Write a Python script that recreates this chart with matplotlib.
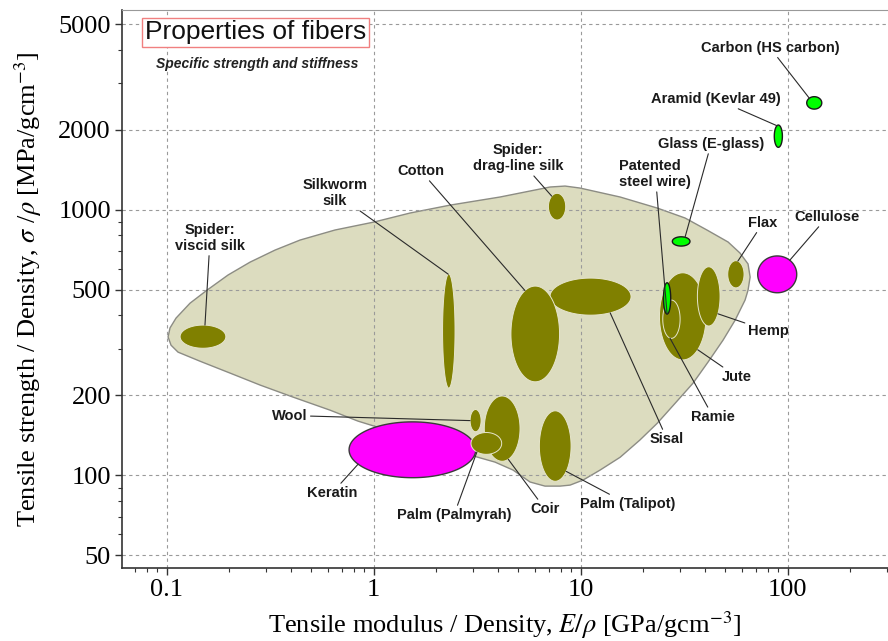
import numpy as np
import matplotlib.pyplot as plt
from matplotlib.ticker import FixedLocator, LogLocator, NullFormatter

plt.rcParams['font.family'] = 'Liberation Serif'
plt.rcParams['mathtext.fontset'] = 'stix'

# Fibers: specific modulus range (GPa/gcm-3) and specific strength range (MPa/gcm-3)
names = ['Sisal', 'Cotton', 'Silkworm\nsilk', 'Spider:\nviscid silk', 'Spider:\ndrag-line silk',
         'Wool', 'Coir', 'Palm (Talipot)', 'Keratin', 'Palm (Palmyrah)',
         'Jute', 'Hemp', 'Ramie', 'Patented\nsteel wire)', 'Flax', 'Glass (E-glass)',
         'Cellulose', 'Aramid (Kevlar 49)', 'Carbon (HS carbon)']
kind = ['plant', 'plant', 'plant', 'plant', 'plant',
        'plant', 'plant', 'plant', 'protein', 'plant',
        'plant', 'plant', 'plant', 'synthetic', 'plant', 'synthetic',
        'protein', 'synthetic', 'synthetic']
mod_lo = [7.1, 4.6, 2.15, 0.116, 6.98, 2.92, 3.42, 6.31, 0.76, 2.95,
          24.0, 36.6, 24.9, 25.1, 51.3, 27.7, 71.6, 86.1, 123.5]
mod_hi = [17.5, 7.9, 2.47, 0.193, 8.46, 3.30, 5.09, 8.98, 3.11, 4.15,
          40.3, 47.1, 30.2, 27.2, 61.5, 33.7, 110.5, 94.2, 146.0]
str_lo = [401, 225, 213, 301, 915, 146, 113, 95, 98, 120,
          272, 365, 328, 405, 508, 730, 487, 1718, 2393]
str_hi = [553, 516, 573, 368, 1153, 177, 199, 175, 159, 145,
          579, 610, 457, 531, 643, 791, 670, 2084, 2665]

# label positions (data) and where the leader touches the ellipse (deg)
label_x = [26.1, 1.69, 0.65, 0.162, 4.98, 0.394, 6.72, 16.9, 0.629, 2.44,
           56.9, 80.3, 43.6, 22.9, 76.0, 42.6, 155, 45.0, 82.1]
label_y = [137, 1399, 1156, 784, 1565, 168, 74.7, 78.0, 85.8, 70.9,
           235, 350, 166, 1363, 893, 1768, 939, 2612, 4074]
anchor_deg = [-61, 115, 95, 85, 128, 180, -70, -46, -149, -128,
              -50, -36, -100, -90, 76, 64, 50, 110, 131]

# envelope of natural fibers
env_x = [0.1134, 0.1049, 0.1015, 0.1037, 0.1109, 0.1296, 0.1565, 0.1978, 0.2526, 0.3336,
         0.4405, 0.650, 1.003, 1.497, 2.337, 4.08, 7.11, 8.40, 9.92, 15.48,
         23.4, 31.9, 40.7, 51.5, 58.8, 64.3, 65.8, 64.3, 62.2, 55.7,
         48.7, 41.2, 34.9, 28.6, 23.4, 19.3, 15.5, 12.4, 10.26, 8.88,
         7.94, 6.72, 5.69, 4.71, 3.85, 3.16, 1.674, 1.04, 0.840, 0.615,
         0.408, 0.2823, 0.2022, 0.1448]
env_y = [291, 309, 332, 359, 391, 445, 498, 568, 635, 705,
         769, 839, 899, 972, 1041, 1117, 1218, 1228, 1207, 1117,
         1015, 931, 839, 756, 687, 625, 558, 498, 457, 384,
         323, 267, 222.6, 187, 157, 135.8, 117, 104.7, 96, 91.9,
         91.1, 91.1, 94.4, 104.7, 112.2, 117.2, 135.8, 152, 160, 176,
         197, 218.8, 242.7, 269]

y_ticks = [50, 100, 200, 500, 1000, 2000, 5000]
x_ticks = [0.1, 1, 10, 100]

styles = {
    'plant': dict(fc='#808000', ec='#e6e5cc', lw=0.7),
    'protein': dict(fc='#ff00ff', ec='#3a3a3a', lw=1.0),
    'synthetic': dict(fc='#00ff00', ec='#1a1a1a', lw=1.0),
}

fig = plt.figure(figsize=(8.88, 6.41), dpi=100)
ax = fig.add_axes([0.1374, 0.1139, 0.8626, 0.8705])
ax.set_xscale('log')
ax.set_yscale('log')
ax.set_xlim(0.0608, 305)
ax.set_ylim(44.8, 5650)

ax.fill(env_x, env_y, fc='#dcdcbf', ec='#8c8c84', lw=1.0, zorder=1)

t = np.linspace(0, 2 * np.pi, 120)
for i, name in enumerate(names):
    lx0, lx1 = np.log10(mod_lo[i]), np.log10(mod_hi[i])
    ly0, ly1 = np.log10(str_lo[i]), np.log10(str_hi[i])
    cx, rx = (lx0 + lx1) / 2, (lx1 - lx0) / 2
    cy, ry = (ly0 + ly1) / 2, (ly1 - ly0) / 2
    ax.fill(10 ** (cx + rx * np.cos(t)), 10 ** (cy + ry * np.sin(t)),
            zorder=3 + i * 0.01, **styles[kind[i]])
    a = np.radians(anchor_deg[i])
    tip = (10 ** (cx + rx * np.cos(a)), 10 ** (cy + ry * np.sin(a)))
    ax.annotate(name, xy=tip, xytext=(label_x[i], label_y[i]),
                ha='center', va='center', multialignment='left' if 'Patented' in name else 'center',
                fontsize=10.5, fontweight='bold', family='Liberation Sans', color='#1a1a1a',
                arrowprops=dict(arrowstyle='-', color='#2a2a2a', lw=0.8, shrinkA=0, shrinkB=0),
                zorder=5)

ax.text(0.1745, 0.9597, 'Properties of fibers', transform=ax.transAxes, ha='center', va='center',
        fontsize=19, family='Liberation Sans', color='#111111',
        bbox=dict(boxstyle='square,pad=0.1', fc='white', ec='#f08080', lw=1.0), zorder=6)
ax.text(0.1765, 0.903, 'Specific strength and stiffness', transform=ax.transAxes,
        ha='center', va='center', fontsize=10, fontweight='bold', fontstyle='italic',
        family='Liberation Sans', color='#222222', zorder=6)

ax.xaxis.set_major_locator(FixedLocator(x_ticks))
ax.set_xticklabels(['0.1', '1', '10', '100'])
ax.yaxis.set_major_locator(FixedLocator(y_ticks))
ax.set_yticklabels([str(v) for v in y_ticks])
ax.xaxis.set_minor_locator(LogLocator(base=10, subs=np.arange(2, 10)))
ax.yaxis.set_minor_locator(LogLocator(base=10, subs=np.arange(2, 10)))
ax.xaxis.set_minor_formatter(NullFormatter())
ax.yaxis.set_minor_formatter(NullFormatter())
ax.tick_params(which='major', length=5, width=1, labelsize=19, color='#333333', pad=3)
ax.tick_params(which='minor', length=3, width=0.8, color='#333333')

ax.grid(True, which='major', ls=(0, (3, 3)), color='#9a9a9a', lw=0.8)
ax.spines['right'].set_visible(False)
ax.spines['top'].set_color('#999999')
ax.spines['left'].set_color('#333333')
ax.spines['bottom'].set_color('#333333')
ax.spines['left'].set_linewidth(1.2)
ax.spines['bottom'].set_linewidth(1.2)

ax.set_xlabel(r'Tensile modulus / Density, $E/\rho$ [GPa/gcm$^{-3}$]', fontsize=19, labelpad=6)
ax.set_ylabel(r'Tensile strength / Density, $\sigma$ /$\rho$ [MPa/gcm$^{-3}$]', fontsize=19, labelpad=10)

fig.savefig('out.png', dpi=100)
